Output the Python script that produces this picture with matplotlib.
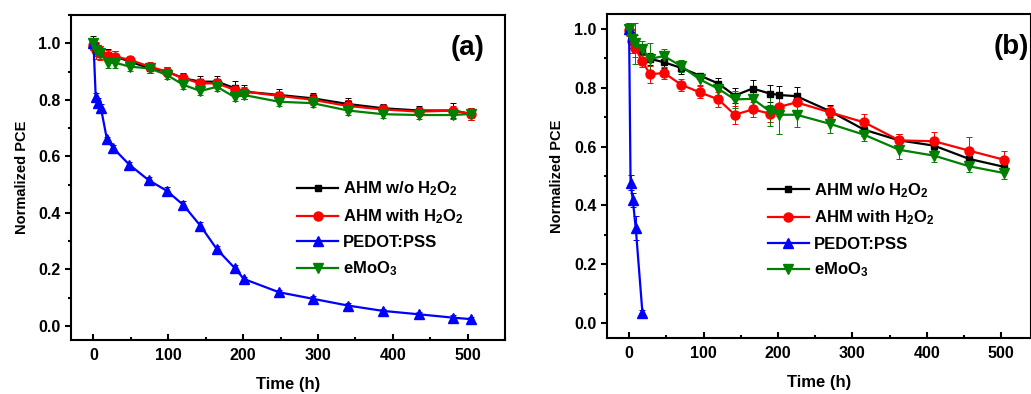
import matplotlib
matplotlib.use('Agg')
import matplotlib.pyplot as plt
from matplotlib.ticker import MultipleLocator

plt.rcParams['font.family'] = 'Liberation Sans'
plt.rcParams['font.weight'] = 'bold'
plt.rcParams['mathtext.fontset'] = 'custom'
plt.rcParams['mathtext.rm'] = 'Liberation Sans:bold'
plt.rcParams['mathtext.it'] = 'Liberation Sans:bold'
plt.rcParams['mathtext.bf'] = 'Liberation Sans:bold'

labels = ['AHM w/o H$_2$O$_2$', 'AHM with H$_2$O$_2$', 'PEDOT:PSS', 'eMoO$_3$']

# panel (a)
t_a = [0, 4, 9, 20, 29, 49, 75, 98, 120, 143, 165, 189, 201, 248, 293, 340, 387, 435, 481, 504]
a_black = [1.0, 0.982, 0.97, 0.959, 0.953, 0.935, 0.911, 0.90, 0.876, 0.864, 0.864, 0.841, 0.829,
           0.817, 0.805, 0.785, 0.77, 0.762, 0.762, 0.75]
a_black_err = [0.025, 0.02, 0.02, 0.02, 0.02, 0.015, 0.015, 0.015, 0.02, 0.02, 0.02, 0.025, 0.025,
               0.02, 0.02, 0.02, 0.015, 0.015, 0.025, 0.02]
a_red = [0.995, 0.976, 0.965, 0.955, 0.953, 0.941, 0.917, 0.90, 0.876, 0.858, 0.858, 0.835, 0.829,
         0.814, 0.80, 0.778, 0.766, 0.758, 0.762, 0.75]
a_red_err = [0.02, 0.03, 0.025, 0.02, 0.02, 0.015, 0.015, 0.015, 0.015, 0.015, 0.015, 0.015, 0.015,
             0.015, 0.02, 0.02, 0.015, 0.015, 0.015, 0.02]
a_green = [1.0, 0.976, 0.965, 0.931, 0.931, 0.917, 0.911, 0.888, 0.853, 0.831, 0.846, 0.809, 0.817,
           0.793, 0.788, 0.762, 0.749, 0.746, 0.746, 0.75]
a_green_err = [0.02, 0.02, 0.02, 0.02, 0.02, 0.015, 0.015, 0.015, 0.015, 0.015, 0.015, 0.015, 0.015,
               0.015, 0.015, 0.015, 0.015, 0.015, 0.015, 0.015]
t_a_blue = [0, 3, 6, 10, 18, 26, 48, 74, 98, 120, 143, 165, 189, 201, 248, 293, 340, 387, 435, 481, 504]
a_blue = [1.0, 0.81, 0.79, 0.77, 0.66, 0.63, 0.57, 0.515, 0.478, 0.428, 0.354, 0.271, 0.204, 0.166,
          0.119, 0.096, 0.072, 0.053, 0.041, 0.029, 0.024]
a_blue_err = [0.01, 0.015, 0.015, 0.015, 0.01, 0.01, 0.01, 0.01, 0.012, 0.015, 0.015, 0.01, 0.01,
              0.008, 0.008, 0.008, 0.008, 0.008, 0.008, 0.008, 0.008]

# panel (b)
t_b = [0, 4, 8, 18, 28, 47, 70, 95, 120, 142, 166, 189, 202, 225, 270, 316, 363, 410, 457, 504]
b_black = [1.0, 0.97, 0.955, 0.924, 0.898, 0.886, 0.867, 0.841, 0.814, 0.773, 0.797, 0.78, 0.775,
           0.771, 0.72, 0.657, 0.621, 0.603, 0.558, 0.531]
b_black_err = [0.02, 0.02, 0.025, 0.02, 0.02, 0.02, 0.02, 0.01, 0.02, 0.025, 0.03, 0.03, 0.03,
               0.03, 0.02, 0.02, 0.02, 0.02, 0.02, 0.02]
b_red = [0.995, 0.958, 0.935, 0.89, 0.845, 0.85, 0.81, 0.784, 0.76, 0.708, 0.726, 0.712, 0.735,
         0.75, 0.716, 0.682, 0.621, 0.618, 0.586, 0.555]
b_red_err = [0.02, 0.04, 0.03, 0.02, 0.03, 0.02, 0.02, 0.02, 0.025, 0.03, 0.025, 0.03, 0.03,
             0.03, 0.02, 0.03, 0.02, 0.03, 0.045, 0.03]
b_green = [1.0, 0.964, 0.95, 0.93, 0.898, 0.907, 0.873, 0.828, 0.796, 0.76, 0.762, 0.72, 0.708,
           0.708, 0.677, 0.64, 0.589, 0.569, 0.533, 0.51]
b_green_err = [0.02, 0.03, 0.07, 0.03, 0.055, 0.025, 0.02, 0.02, 0.02, 0.03, 0.03, 0.05, 0.065,
               0.04, 0.03, 0.02, 0.03, 0.02, 0.02, 0.02]
t_b_blue = [0, 2, 5, 9, 18]
b_blue = [1.0, 0.478, 0.419, 0.323, 0.034]
b_blue_err = [0.01, 0.025, 0.025, 0.04, 0.01]

colors = ['black', 'red', 'blue', 'green']
markers = ['s', 'o', '^', 'v']
msizes = [5, 6.5, 6.5, 6.5]

fig = plt.figure(figsize=(10.31, 3.94), dpi=100)
ax_a = fig.add_axes([0.0689, 0.137, 0.4209, 0.825])
ax_b = fig.add_axes([0.5885, 0.142, 0.4115, 0.8225])


def draw(ax, series, xlim, ylim, tag, tag_x, leg_anchor):
    lines = []
    for i, (t, y, e) in enumerate(series):
        c = ax.errorbar(t, y, yerr=e, color=colors[i], marker=markers[i], ms=msizes[i],
                        lw=1.6, elinewidth=0.7, capsize=2, capthick=0.7)
        lines.append(c.lines[0])
    ax.set_xlim(*xlim)
    ax.set_ylim(*ylim)
    ax.xaxis.set_major_locator(MultipleLocator(100))
    ax.xaxis.set_minor_locator(MultipleLocator(50))
    ax.yaxis.set_major_locator(MultipleLocator(0.2))
    ax.yaxis.set_minor_locator(MultipleLocator(0.1))
    ax.yaxis.set_major_formatter('{x:.1f}')
    ax.tick_params(axis='x', which='both', direction='in', pad=6, labelsize=11.5, width=1.5)
    ax.tick_params(axis='y', which='both', direction='out', pad=3, labelsize=11.5, width=1.5)
    ax.tick_params(which='major', length=4.5)
    ax.tick_params(which='minor', length=2.5)
    for s in ax.spines.values():
        s.set_linewidth(1.5)
    ax.set_xlabel('Time (h)', fontsize=12, fontweight='bold', labelpad=10)
    ax.set_ylabel('Normalized PCE', fontsize=10.5, fontweight='bold', labelpad=7)
    ax.text(tag_x, 0.898, tag, transform=ax.transAxes, fontsize=20, fontweight='bold',
            ha='left', va='center')
    ax.legend(lines, labels, loc='center left', bbox_to_anchor=leg_anchor, frameon=False,
              fontsize=12, handlelength=2.5, handletextpad=0.3, labelspacing=0.55,
              borderpad=0, borderaxespad=0)


draw(ax_a, [(t_a, a_black, a_black_err), (t_a, a_red, a_red_err),
            (t_a_blue, a_blue, a_blue_err), (t_a, a_green, a_green_err)],
     (-30, 550), (-0.05, 1.1), '(a)', 0.875, (0.52, 0.342))
draw(ax_b, [(t_b, b_black, b_black_err), (t_b, b_red, b_red_err),
            (t_b_blue, b_blue, b_blue_err), (t_b, b_green, b_green_err)],
     (-30, 540), (-0.05, 1.05), '(b)', 0.912, (0.379, 0.333))

fig.savefig('out.png', dpi=100)
